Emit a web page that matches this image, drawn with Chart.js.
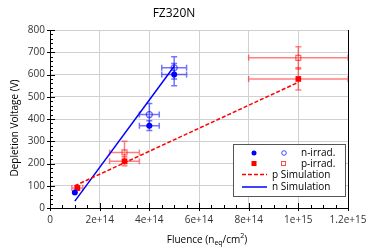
<!DOCTYPE html>
<html>
<head>
<meta charset="utf-8">
<script src="https://cdn.jsdelivr.net/npm/chart.js@4/dist/chart.umd.min.js"></script>
<style>
  body { margin: 0; background: #fff; }
  #wrap { width: 374px; height: 251px; }
</style>
</head>
<body>
<div id="wrap"><canvas id="chart" width="374" height="251"></canvas></div>
<script>
// fluence values (n_eq/cm^2) and depletion voltages (V)
const nFluence = [1e14, 4e14, 5e14];
const nFilled = [70, 370, 600];
const nFilledXErr = [0, 0.4e14, 0.5e14];
const nFilledYErr = [0, 22, 50];

const nOpenFluence = [4e14, 5e14];
const nOpen = [420, 630];
const nOpenXErr = [0.4e14, 0.5e14];
const nOpenYErr = [50, 50];

const pFluence = [1.1e14, 3e14, 1e15];
const pFilled = [90, 210, 580];
const pFilledXErr = [0.22e14, 0.6e14, 2e14];
const pFilledYErr = [10, 20, 50];

const pOpenFluence = [3e14, 1e15];
const pOpen = [250, 675];
const pOpenXErr = [0.6e14, 2e14];
const pOpenYErr = [50, 50];

const pSimFluence = [1e14, 1e15];
const pSim = [100, 565];
const nSimFluence = [1e14, 5e14];
const nSim = [31, 637];

const xTickLabels = ['0', '2e+14', '4e+14', '6e+14', '8e+14', '1e+15', '1.2e+15'];
const yTickLabels = ['0', '100', '200', '300', '400', '500', '600', '700', '800'];

const FONT = "'Open Sans', 'DejaVu Sans', sans-serif";

function toPoints(xs, ys, xe, ye) {
    return xs.map(function(x, i){
        return { x: x, y: ys[i], xe: xe ? xe[i] : 0, ye: ye ? ye[i] : 0 };
    });
}

// error bars behind the markers
const errorBars = {
    id: 'errorBars',
    beforeDatasetsDraw(chart) {
        const ctx = chart.ctx;
        const xs = chart.scales.x, ys = chart.scales.y;
        chart.data.datasets.forEach(function(ds){
            if (!ds.errColor) return;
            ctx.save();
            ctx.strokeStyle = ds.errColor;
            ctx.lineWidth = 1.5;
            ds.data.forEach(function(p){
                const px = xs.getPixelForValue(p.x);
                const py = ys.getPixelForValue(p.y);
                ctx.beginPath();
                if (p.xe) {
                    const l = xs.getPixelForValue(p.x - p.xe);
                    const r = xs.getPixelForValue(p.x + p.xe);
                    ctx.moveTo(l, py); ctx.lineTo(r, py);
                    ctx.moveTo(l, py - 3); ctx.lineTo(l, py + 3);
                    ctx.moveTo(r, py - 3); ctx.lineTo(r, py + 3);
                }
                if (p.ye) {
                    const t = ys.getPixelForValue(p.y + p.ye);
                    const b = ys.getPixelForValue(p.y - p.ye);
                    ctx.moveTo(px, t); ctx.lineTo(px, b);
                    ctx.moveTo(px - 3, t); ctx.lineTo(px + 3, t);
                    ctx.moveTo(px - 3, b); ctx.lineTo(px + 3, b);
                }
                ctx.stroke();
            });
            ctx.restore();
        });
    }
};

// frame, inner ticks, axis titles and the legend box
const decorations = {
    id: 'decorations',
    afterDraw(chart) {
        const ctx = chart.ctx;
        const a = chart.chartArea;
        const xs = chart.scales.x, ys = chart.scales.y;
        ctx.save();
        ctx.strokeStyle = '#000';
        ctx.lineWidth = 1;
        ctx.beginPath();
        ctx.moveTo(a.right + 0.5, a.top); ctx.lineTo(a.right + 0.5, a.bottom);
        // x ticks
        for (let v = 0; v <= 1.2e15 + 1; v += 0.5e14) {
            const px = Math.round(xs.getPixelForValue(v)) + 0.5;
            const major = Math.abs((v / 2e14) - Math.round(v / 2e14)) < 1e-6;
            ctx.moveTo(px, a.bottom + (major ? 3 : 0));
            ctx.lineTo(px, a.bottom - (major ? 5 : 3));
        }
        // y ticks
        for (let v = 0; v <= 800; v += 20) {
            const py = Math.round(ys.getPixelForValue(v)) + 0.5;
            const major = v % 100 === 0;
            ctx.moveTo(a.left - (major ? 3 : 0), py);
            ctx.lineTo(a.left + (major ? 5 : 3), py);
        }
        ctx.stroke();

        // y title
        ctx.fillStyle = '#000';
        ctx.font = '10px ' + FONT;
        ctx.textAlign = 'center';
        ctx.textBaseline = 'middle';
        ctx.save();
        ctx.translate(15, 128);
        ctx.rotate(-Math.PI / 2);
        ctx.fillText('Depletion Voltage (V)', 0, 0);
        ctx.restore();

        // x title with sub/superscript
        const parts = [
            { t: 'Fluence (n', f: 10, dy: 0 },
            { t: 'eq', f: 7, dy: 3 },
            { t: '/cm', f: 10, dy: 0 },
            { t: '2', f: 7, dy: -4 },
            { t: ')', f: 10, dy: 0 }
        ];
        let w = 0;
        parts.forEach(function(p){ ctx.font = p.f + 'px ' + FONT; w += ctx.measureText(p.t).width; });
        let x = 207 - w / 2;
        ctx.textAlign = 'left';
        parts.forEach(function(p){
            ctx.font = p.f + 'px ' + FONT;
            ctx.fillText(p.t, x, 240 + p.dy);
            x += ctx.measureText(p.t).width;
        });

        // legend
        const lx = 233.5, ly = 144.5, lw = 112, lh = 52;
        ctx.fillStyle = '#fff';
        ctx.fillRect(lx, ly, lw, lh);
        ctx.strokeStyle = '#555';
        ctx.lineWidth = 1;
        ctx.strokeRect(lx, ly, lw, lh);

        ctx.fillStyle = '#0000ff';
        ctx.beginPath(); ctx.arc(254, 153, 2.5, 0, Math.PI * 2); ctx.fill();
        ctx.strokeStyle = 'rgba(0,0,255,0.7)';
        ctx.beginPath(); ctx.arc(284, 153, 2.3, 0, Math.PI * 2); ctx.stroke();
        ctx.fillStyle = '#ff0000';
        ctx.fillRect(251.5, 161, 5, 5);
        ctx.strokeStyle = 'rgba(255,0,0,0.7)';
        ctx.strokeRect(281.5, 161.5, 4, 4);

        ctx.lineWidth = 1.5;
        ctx.strokeStyle = '#ff0000';
        ctx.setLineDash([4, 2]);
        ctx.beginPath(); ctx.moveTo(242, 174.5); ctx.lineTo(267, 174.5); ctx.stroke();
        ctx.setLineDash([]);
        ctx.strokeStyle = '#0000ff';
        ctx.beginPath(); ctx.moveTo(242, 187); ctx.lineTo(267, 187); ctx.stroke();

        ctx.fillStyle = '#000';
        ctx.font = '10px ' + FONT;
        ctx.textBaseline = 'middle';
        ctx.fillText('n-irrad.', 301, 153);
        ctx.fillText('p-irrad.', 301, 164);
        ctx.fillText('p Simulation', 272, 175);
        ctx.fillText('n Simulation', 272, 187);
        ctx.restore();
    }
};

const chart = new Chart(document.getElementById('chart').getContext('2d'), {
    type: 'scatter',
    data: {
        datasets: [
            {
                label: 'p Simulation',
                data: toPoints(pSimFluence, pSim),
                showLine: true,
                borderColor: '#ff0000',
                borderWidth: 1.5,
                borderDash: [4, 2],
                pointRadius: 0
            },
            {
                label: 'n Simulation',
                data: toPoints(nSimFluence, nSim),
                showLine: true,
                borderColor: '#0000ff',
                borderWidth: 1.5,
                pointRadius: 0
            },
            {
                label: 'n-irrad. open',
                data: toPoints(nOpenFluence, nOpen, nOpenXErr, nOpenYErr),
                errColor: 'rgba(0,0,255,0.55)',
                pointStyle: 'circle',
                pointRadius: 3,
                borderWidth: 1.2,
                borderColor: 'rgba(0,0,255,0.6)',
                backgroundColor: 'rgba(255,255,255,0)'
            },
            {
                label: 'p-irrad. open',
                data: toPoints(pOpenFluence, pOpen, pOpenXErr, pOpenYErr),
                errColor: 'rgba(255,0,0,0.5)',
                pointStyle: 'rect',
                pointRadius: 3.5,
                borderWidth: 1.2,
                borderColor: 'rgba(255,0,0,0.6)',
                backgroundColor: 'rgba(255,255,255,0)'
            },
            {
                label: 'n-irrad.',
                data: toPoints(nFluence, nFilled, nFilledXErr, nFilledYErr),
                errColor: 'rgba(0,0,255,0.55)',
                pointStyle: 'circle',
                pointRadius: 3,
                borderWidth: 0,
                backgroundColor: '#0000ff'
            },
            {
                label: 'p-irrad.',
                data: toPoints(pFluence, pFilled, pFilledXErr, pFilledYErr),
                errColor: 'rgba(255,0,0,0.5)',
                pointStyle: 'rect',
                pointRadius: 4,
                borderWidth: 0,
                backgroundColor: '#ff0000'
            }
        ]
    },
    options: {
        responsive: false,
        animation: false,
        layout: { padding: { left: 0, right: 26, top: 0, bottom: 0 } },
        plugins: {
            legend: { display: false },
            tooltip: { enabled: false },
            title: {
                display: true,
                text: 'FZ320N',
                color: '#000',
                font: { family: FONT, size: 12, weight: 'normal' },
                padding: { top: 6, bottom: 9.6 }
            }
        },
        scales: {
            x: {
                type: 'linear',
                min: 0,
                max: 1.2e15,
                afterFit: function(s){ s.height = 43; },
                afterBuildTicks: function(s){
                    s.ticks = xTickLabels.map(function(l, i){ return { value: i * 2e14 }; });
                },
                ticks: {
                    color: '#333',
                    font: { family: FONT, size: 10 },
                    padding: 6,
                    maxRotation: 0,
                    autoSkip: false,
                    callback: function(v, i){ return xTickLabels[i]; }
                },
                grid: { color: '#d0d0d0', drawTicks: false },
                border: { color: '#000', width: 1 }
            },
            y: {
                min: 0,
                max: 800,
                afterFit: function(s){ s.width = 50; },
                afterBuildTicks: function(s){
                    s.ticks = yTickLabels.map(function(l, i){ return { value: i * 100 }; });
                },
                ticks: {
                    color: '#333',
                    font: { family: FONT, size: 10 },
                    padding: 5,
                    callback: function(v, i){ return yTickLabels[i]; }
                },
                grid: { color: '#d0d0d0', drawTicks: false },
                border: { color: '#000', width: 1 }
            }
        }
    },
    plugins: [errorBars, decorations]
});
</script>
</body>
</html>
